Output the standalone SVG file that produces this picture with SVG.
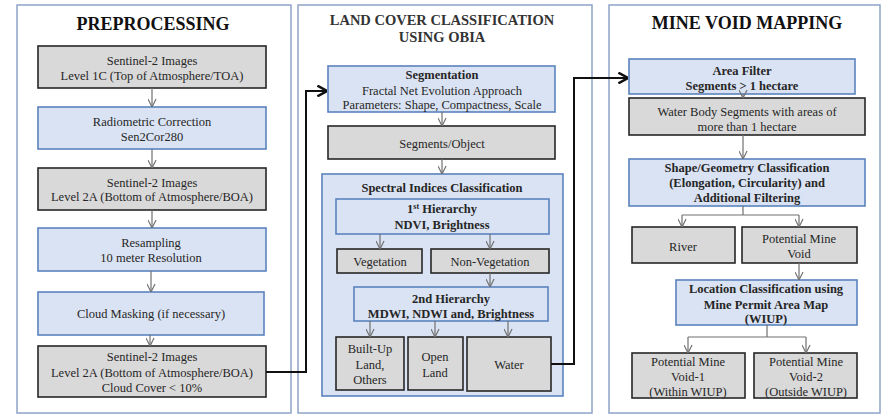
<svg xmlns="http://www.w3.org/2000/svg" width="883" height="417" viewBox="0 0 883 417">
<defs>
<style>
text{font-family:"Liberation Serif","Times New Roman",serif;fill:#262626;text-anchor:middle;font-size:12.5px}
.b{font-weight:bold}
.t{font-weight:bold;font-size:18px;fill:#111}
.t2{font-weight:bold;font-size:14.5px;fill:#333}
.panel{fill:#fff;stroke:#8ea4c8;stroke-width:1.5}
.blue{fill:#dae3f3;stroke:#5b82be;stroke-width:1.6}
.gray{fill:#d9d9d9;stroke:#262626;stroke-width:1.6}
.ga{fill:none;stroke:#707070;stroke-width:1.2;marker-end:url(#mg)}
.gl{fill:none;stroke:#707070;stroke-width:1.2}
.ka{fill:none;stroke:#111;stroke-width:2;marker-end:url(#mk)}
</style>
<marker id="mg" viewBox="0 0 10 10" refX="10" refY="5" orient="auto" markerUnits="userSpaceOnUse" markerWidth="9" markerHeight="9">
<path d="M1,0.5 L10,5 L1,9.5" fill="none" stroke="#707070" stroke-width="1.3"/>
</marker>
<marker id="mk" viewBox="0 0 10 10" refX="10" refY="5" orient="auto" markerUnits="userSpaceOnUse" markerWidth="12" markerHeight="12">
<path d="M2,0.5 L10,5 L2,9.5" fill="none" stroke="#111" stroke-width="2"/>
</marker>
</defs>

<rect class="panel" x="17" y="5" width="274" height="408"/>
<rect class="panel" x="298" y="5" width="294" height="408"/>
<rect class="panel" x="609" y="5" width="271" height="408"/>

<text class="t" x="153" y="30">PREPROCESSING</text>
<text class="t2" x="442" y="25">LAND COVER CLASSIFICATION</text>
<text class="t2" x="442" y="42">USING OBIA</text>
<text class="t" x="747" y="29">MINE VOID MAPPING</text>

<g id="s2-l1c"><rect class="gray" x="38" y="46" width="228" height="42"/>
<text x="152" y="65">Sentinel-2  Images</text><text x="152" y="80">Level  1C (Top of Atmosphere/TOA)</text></g>
<g id="radiometric"><rect class="blue" x="38" y="107" width="228" height="42"/>
<text x="152" y="126">Radiometric  Correction</text><text x="152" y="141">Sen2Cor280</text></g>
<g id="s2-l2a"><rect class="gray" x="38" y="168" width="228" height="42"/>
<text x="152" y="187">Sentinel-2  Images</text><text x="152" y="201">Level  2A (Bottom of Atmosphere/BOA)</text></g>
<g id="resampling"><rect class="blue" x="38" y="228" width="228" height="43"/>
<text x="151" y="247">Resampling</text><text x="151" y="262">10 meter  Resolution</text></g>
<g id="cloud-masking"><rect class="blue" x="38" y="292" width="226" height="43"/>
<text x="151" y="318">Cloud Masking  (if necessary)</text></g>
<g id="s2-l2a-cc"><rect class="gray" x="38" y="346" width="228" height="51"/>
<text x="152" y="361">Sentinel-2  Images</text><text x="152" y="377">Level  2A (Bottom of Atmosphere/BOA)</text><text x="152" y="392">Cloud Cover &lt; 10%</text></g>

<g id="segmentation"><rect class="blue" x="328" y="66" width="227" height="46"/>
<text class="b" x="442" y="79">Segmentation</text><text x="442" y="95">Fractal Net Evolution  Approach</text><text x="442" y="109">Parameters:  Shape, Compactness, Scale</text></g>
<g id="segments-object"><rect class="gray" x="328" y="126" width="227" height="33"/>
<text x="442" y="148">Segments/Object</text></g>
<g id="spectral"><rect class="blue" x="322" y="174" width="241" height="222"/>
<text class="b" x="442" y="192">Spectral Indices Classification</text></g>
<g id="hier1"><rect class="blue" x="336" y="199" width="213" height="35"/>
<text class="b" x="442" y="213">1<tspan font-size="8" dy="-4">st</tspan><tspan dy="4"> Hierarchy</tspan></text><text class="b" x="442" y="229">NDVI, Brightness</text></g>
<g id="vegetation"><rect class="gray" x="337" y="249" width="85" height="24"/>
<text x="380" y="266">Vegetation</text></g>
<g id="non-vegetation"><rect class="gray" x="431" y="249" width="118" height="24"/>
<text x="490" y="266">Non-Vegetation</text></g>
<g id="hier2"><rect class="blue" x="354" y="287" width="194" height="34"/>
<text class="b" x="451" y="303">2nd Hierarchy</text><text class="b" x="451" y="318">MDWI, NDWI and, Brightness</text></g>
<g id="built-up"><rect class="gray" x="336" y="337" width="68" height="53"/>
<text x="370" y="353">Built-Up</text><text x="370" y="369">Land,</text><text x="370" y="384">Others</text></g>
<g id="open-land"><rect class="gray" x="408" y="337" width="55" height="53"/>
<text x="435" y="361">Open</text><text x="435" y="377">Land</text></g>
<g id="water"><rect class="gray" x="467" y="337" width="84" height="54"/>
<text x="509" y="369">Water</text></g>

<g id="area-filter"><rect class="blue" x="629" y="59" width="226" height="35"/>
<text class="b" x="742" y="75">Area Filter</text><text class="b" x="742" y="90">Segments &gt; 1 hectare</text></g>
<g id="water-body"><rect class="gray" x="629" y="98" width="236" height="37"/>
<text x="747" y="116">Water Body Segments with areas of</text><text x="747" y="131">more than 1 hectare</text></g>
<g id="shape-geometry"><rect class="blue" x="629" y="159" width="236" height="47"/>
<text class="b" x="747" y="172">Shape/Geometry Classification</text><text class="b" x="747" y="187">(Elongation, Circularity) and</text><text class="b" x="747" y="202">Additional Filtering</text></g>
<g id="river"><rect class="gray" x="632" y="227" width="103" height="36"/>
<text x="683" y="251">River</text></g>
<g id="potential-mine-void"><rect class="gray" x="742" y="227" width="115" height="36"/>
<text x="799" y="243">Potential  Mine</text><text x="799" y="258">Void</text></g>
<g id="location-classification"><rect class="blue" x="676" y="280" width="181" height="45"/>
<text class="b" x="766" y="293">Location Classification using</text><text class="b" x="766" y="309">Mine Permit Area Map</text><text class="b" x="766" y="323">(WIUP)</text></g>
<g id="pmv1"><rect class="gray" x="632" y="353" width="113" height="45"/>
<text x="688" y="366">Potential  Mine</text><text x="688" y="381">Void-1</text><text x="688" y="396">(Within  WIUP)</text></g>
<g id="pmv2"><rect class="gray" x="754" y="353" width="103" height="45"/>
<text x="806" y="366">Potential  Mine</text><text x="806" y="381">Void-2</text><text x="806" y="396">(Outside WIUP)</text></g>

<g id="connectors">
<path class="ga" d="M152,88 V107"/>
<path class="ga" d="M152,149 V168"/>
<path class="ga" d="M152,210 V228"/>
<path class="ga" d="M151,271 V292"/>
<path class="ga" d="M150,335 V346"/>
<path class="ka" d="M266,372 H306 V91 H327"/>
<path class="ga" d="M442,112 V126"/>
<path class="ga" d="M442,159 V174"/>
<path class="ga" d="M380,234 V249"/>
<path class="ga" d="M490,234 V249"/>
<path class="ga" d="M490,273 V287"/>
<path class="ga" d="M370,321 V337"/>
<path class="ga" d="M435,321 V337"/>
<path class="ga" d="M508,321 V337"/>
<path class="ka" d="M551,364 H574 V78 H628"/>
<path class="ga" d="M743,94 V98"/>
<path class="ga" d="M743,135 V159"/>
<path class="gl" d="M743,206 V215 M682,215 H799"/>
<path class="ga" d="M682,215 V227"/>
<path class="ga" d="M799,215 V227"/>
<path class="ga" d="M799,263 V280"/>
<path class="gl" d="M767,325 V337 M688,337 H806"/>
<path class="ga" d="M688,337 V353"/>
<path class="ga" d="M806,337 V353"/>
</g>
</svg>
